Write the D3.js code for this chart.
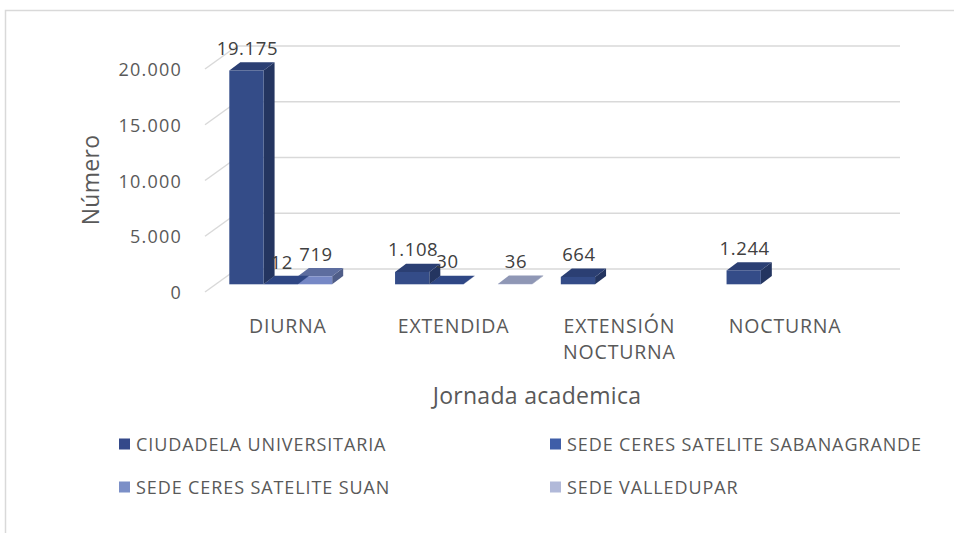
<!DOCTYPE html>
<html><head><meta charset="utf-8">
<script src="https://cdn.jsdelivr.net/npm/d3@7"></script>
<style>
html,body{margin:0;padding:0;background:#fff;}
svg{display:block;font-family:"Open Sans",sans-serif;}
</style></head>
<body><svg id="c" width="954" height="533"></svg>
<script>
const categories = ["DIURNA", "EXTENDIDA", "EXTENSIÓN NOCTURNA", "NOCTURNA"];
const seriesNames = ["CIUDADELA UNIVERSITARIA", "SEDE CERES SATELITE SABANAGRANDE", "SEDE CERES SATELITE SUAN", "SEDE VALLEDUPAR"];
const ciudadela = [19175, 1108, 664, 1244];
const sabanagrande = [12, 30, null, null];
const suan = [719, null, null, null];
const valledupar = [null, 36, null, null];
const yTicks = [0, 5000, 10000, 15000, 20000];
const seriesValues = [ciudadela, sabanagrande, suan, valledupar];
const colors = [
  {front:"#344c88", top:"#2b3f73", side:"#243560", legend:"#34498a"},
  {front:"#3b5aa6", top:"#2f4785", side:"#283c70", legend:"#3f5ea8"},
  {front:"#7688c6", top:"#5d6d9f", side:"#4f5d88", legend:"#7b8fc7"},
  {front:"#aeb7da", top:"#8f97b5", side:"#7a819c", legend:"#b1b9d9"}
];

const svg = d3.select("#c");
const fmt = v => d3.format(",")(v).replace(/,/g, ".");

// outer border
svg.append("rect").attr("x",5.5).attr("y",10.5).attr("width",1000).attr("height",600)
  .attr("fill","none").attr("stroke","#d9d9d9").attr("stroke-width",1.5);

// front plane scales
const x = d3.scaleBand().domain(categories).range([205, 868]);
const y = d3.scaleLinear().domain([0, 20000]).range([292, 69]);
const bw = x.bandwidth();
const xs = d3.scaleBand().domain(d3.range(4)).range([bw*0.0863, bw*(1-0.0863)]);
const wall = {dx:32, dy:-23};
const d1 = {dx:10, dy:-7.7};
const d2 = {dx:21, dy:-16};

// gridlines
const grid = svg.append("g");
yTicks.forEach(t => {
  const yy = y(t);
  grid.append("line").attr("x1",205).attr("y1",yy).attr("x2",205+wall.dx).attr("y2",yy+wall.dy)
    .attr("stroke","#d9d9d9").attr("stroke-width",1.5);
  grid.append("line").attr("x1",205+wall.dx).attr("y1",yy+wall.dy).attr("x2",900).attr("y2",yy+wall.dy)
    .attr("stroke","#d9d9d9").attr("stroke-width",1.5);
  svg.append("text").attr("x",182).attr("y",yy).attr("text-anchor","end")
    .attr("dominant-baseline","central").attr("font-size",18).attr("letter-spacing",1.2).attr("fill","#595959")
    .text(fmt(t));
});

// bars
const bars = svg.append("g");
const labels = svg.append("g");
categories.forEach((c, ci) => {
  for (let si = 3; si >= 0; si--) {
    const v = seriesValues[si][ci];
    if (v == null) continue;
    const x0 = x(c) + xs(si), w = xs.bandwidth();
    const yt = y(v), yb = y(0);
    const col = colors[si];
    const P = pts => pts.map(p => p.join(",")).join(" ");
    bars.append("polygon").attr("points", P([
      [x0+w+d1.dx, yt+d1.dy],[x0+w+d2.dx, yt+d2.dy],[x0+w+d2.dx, yb+d2.dy],[x0+w+d1.dx, yb+d1.dy]
    ])).attr("fill", col.side);
    bars.append("polygon").attr("points", P([
      [x0+d1.dx, yt+d1.dy],[x0+w+d1.dx, yt+d1.dy],[x0+w+d2.dx, yt+d2.dy],[x0+d2.dx, yt+d2.dy]
    ])).attr("fill", col.top);
    bars.append("rect").attr("x", x0+d1.dx).attr("y", yt+d1.dy).attr("width", w)
      .attr("height", Math.max(0, yb-yt)).attr("fill", col.front);
    labels.append("text").attr("x", x0 + w/2 + d1.dx + 1).attr("y", yt + d1.dy - 23)
      .attr("text-anchor","middle").attr("dominant-baseline","central")
      .attr("font-size",18.5).attr("letter-spacing",0.6).attr("fill","#404040").text(fmt(v));
  }
});

// category labels
categories.forEach(c => {
  const words = c.split(" ");
  const t = svg.append("text").attr("x", x(c)+bw/2).attr("y", 325)
    .attr("text-anchor","middle").attr("font-size",19.5).attr("letter-spacing",0.8).attr("fill","#595959")
    .attr("dominant-baseline","central");
  words.forEach((wd, i) => t.append("tspan").attr("x", x(c)+bw/2).attr("dy", i ? 26 : 0).text(wd));
});

// axis titles
svg.append("text").attr("transform","translate(90,180) rotate(-90)").attr("text-anchor","middle")
  .attr("dominant-baseline","central").attr("font-size",23).attr("letter-spacing",0.3).attr("fill","#595959").text("Número");
svg.append("text").attr("x",537).attr("y",395).attr("text-anchor","middle")
  .attr("dominant-baseline","central").attr("font-size",23).attr("letter-spacing",0.3).attr("fill","#595959").text("Jornada academica");

// legend
const legPos = [[119,444],[550,444],[119,487],[550,487]];
seriesNames.forEach((n, i) => {
  const [lx, ly] = legPos[i];
  svg.append("rect").attr("x",lx).attr("y",ly-5.5).attr("width",11).attr("height",11).attr("fill",colors[i].legend);
  svg.append("text").attr("x",lx+17).attr("y",ly).attr("dominant-baseline","central")
    .attr("font-size",18).attr("letter-spacing",0.9).attr("fill","#595959").text(n);
});
</script></body></html>
